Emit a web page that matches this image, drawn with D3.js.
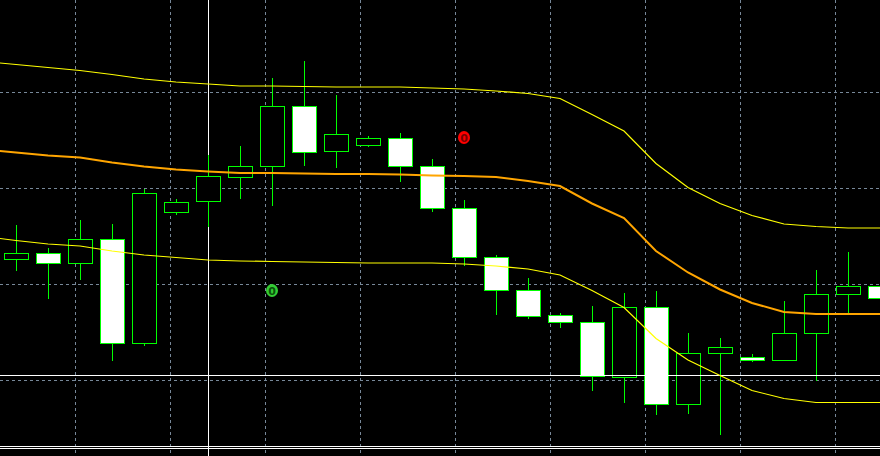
<!DOCTYPE html>
<html>
<head>
<meta charset="utf-8">
<script src="https://cdnjs.cloudflare.com/ajax/libs/d3/7.8.5/d3.min.js"></script>
<style>
	body { margin: 0; background: #000; overflow: hidden; }
	svg { display: block; }
</style>
</head>
<body>
<div id="chart"></div>
<script>
// candles, bar 0 = leftmost visible bar
var bars   = [0, 1, 2, 3, 4, 5, 6, 7, 8, 9, 10, 11, 12, 13, 14, 15, 16, 17, 18, 19, 20, 21, 22, 23, 24, 25, 26, 27];
var opens  = [1.30241, 1.30253, 1.30233, 1.30281, 1.30073, 1.30335, 1.30357, 1.30405, 1.30427, 1.30547, 1.30457, 1.30469, 1.30483, 1.30427,
              1.30343, 1.30245, 1.30179, 1.30129, 1.30115, 1.30005, 1.30145, 1.29951, 1.30053, 1.30045, 1.30039, 1.30093, 1.30171, 1.30187];
var highs  = [1.30310, 1.30263, 1.30320, 1.30312, 1.30382, 1.30362, 1.30449, 1.30468, 1.30604, 1.30638, 1.30570, 1.30488, 1.30494, 1.30441,
              1.30360, 1.30250, 1.30204, 1.30134, 1.30148, 1.30173, 1.30177, 1.30093, 1.30083, 1.30052, 1.30158, 1.30220, 1.30255, 1.30195];
var lows   = [1.30219, 1.30163, 1.30201, 1.30039, 1.30069, 1.30331, 1.30307, 1.30363, 1.30349, 1.30429, 1.30425, 1.30467, 1.30397, 1.30337,
              1.30229, 1.30131, 1.30123, 1.30105, 1.29979, 1.29955, 1.29931, 1.29933, 1.29891, 1.30037, 1.30039, 1.30000, 1.30133, 1.30155];
var closes = [1.30253, 1.30233, 1.30281, 1.30073, 1.30373, 1.30355, 1.30408, 1.30427, 1.30547, 1.30455, 1.30491, 1.30483, 1.30427, 1.30343,
              1.30245, 1.30179, 1.30127, 1.30115, 1.30007, 1.30145, 1.29951, 1.30053, 1.30065, 1.30039, 1.30093, 1.30171, 1.30187, 1.30163];

// bollinger bands (start one bar before the first visible candle)
var bandBars = [-1, 0, 1, 2, 3, 4, 5, 6, 7, 8, 9, 10, 11, 12, 13, 14, 15, 16, 17, 18, 19, 20, 21, 22, 23, 24, 25, 26, 27];
var upper  = [1.30638, 1.30632, 1.30626, 1.30620, 1.30612, 1.30603, 1.30597, 1.30593, 1.30589, 1.30589, 1.30588, 1.30587, 1.30587, 1.30587, 1.30585,
              1.30583, 1.30579, 1.30574, 1.30564, 1.30532, 1.30499, 1.30434, 1.30386, 1.30354, 1.30330, 1.30313, 1.30308, 1.30305, 1.30305];
var middle = [1.30462, 1.30456, 1.30450, 1.30446, 1.30436, 1.30428, 1.30422, 1.30418, 1.30415, 1.30415, 1.30414, 1.30413, 1.30413, 1.30412, 1.30410,
              1.30409, 1.30407, 1.30399, 1.30389, 1.30354, 1.30325, 1.30259, 1.30216, 1.30182, 1.30155, 1.30137, 1.30133, 1.30133, 1.30133];
var lower  = [1.30288, 1.30280, 1.30273, 1.30269, 1.30259, 1.30251, 1.30246, 1.30241, 1.30239, 1.30238, 1.30237, 1.30236, 1.30235, 1.30235, 1.30235,
              1.30233, 1.30229, 1.30223, 1.30211, 1.30180, 1.30146, 1.30084, 1.30041, 1.30010, 1.29980, 1.29964, 1.29956, 1.29956, 1.29956];

// grid, objects and signal marks
var gridPrices = [1.30576, 1.30384, 1.30192, 1.30000];
var gridBars   = [1.84, 4.81, 7.78, 10.75, 13.72, 16.69, 19.66, 22.63, 25.59];
var hLinePrices = [1.30010, 1.29868, 1.29864];
var vLineBars   = [6];
var signals = [
	{ bar: 14, price: 1.30485, label: "0", fill: "#ff0000", ink: "#7a0000" },
	{ bar: 8,  price: 1.30179, label: "0", fill: "#33cc33", ink: "#0a520a" }
];

var W = 880, H = 456;

var x = d3.scaleLinear()
	.domain([-0.5, 27])
	.range([0, W]);
var y = d3.scaleLinear()
	.domain([1.29848, 1.30760])
	.range([H, 0]);

// snap to pixel centre so 1px strokes stay sharp
function px(v) { return Math.floor(v + 0.2) + 0.5; }

var svg = d3.select("#chart")
	.append("svg")
	.attr("width", W)
	.attr("height", H);

svg.append("rect")
	.attr("width", W)
	.attr("height", H)
	.attr("fill", "#000");

var grid = svg.append("g")
	.attr("stroke", "#778899")
	.attr("stroke-width", 1)
	.attr("stroke-dasharray", "3,3")
	.attr("shape-rendering", "crispEdges");

grid.selectAll("line.h")
	.data(gridPrices)
	.enter()
	.append("line")
	.attr("class", "h")
	.attr("x1", 0)
	.attr("x2", W)
	.attr("y1", function(d) { return px(y(d)); })
	.attr("y2", function(d) { return px(y(d)); });

grid.selectAll("line.v")
	.data(gridBars)
	.enter()
	.append("line")
	.attr("class", "v")
	.attr("y1", 0)
	.attr("y2", H)
	.attr("x1", function(d) { return px(x(d)); })
	.attr("x2", function(d) { return px(x(d)); });

// vertical line object sits behind the candles
svg.selectAll("line.vline")
	.data(vLineBars)
	.enter()
	.append("line")
	.attr("class", "vline")
	.attr("x1", function(d) { return px(x(d)); })
	.attr("x2", function(d) { return px(x(d)); })
	.attr("y1", 0)
	.attr("y2", H)
	.attr("stroke", "#fff")
	.attr("shape-rendering", "crispEdges");

var candles = bars.map(function(b, i) {
	return { bar: b, o: opens[i], h: highs[i], l: lows[i], c: closes[i] };
});

var cg = svg.append("g")
	.attr("shape-rendering", "crispEdges");

var candle = cg.selectAll("g.candle")
	.data(candles)
	.enter()
	.append("g")
	.attr("class", "candle");

candle.append("line")
	.attr("x1", function(d) { return px(x(d.bar)); })
	.attr("x2", function(d) { return px(x(d.bar)); })
	.attr("y1", function(d) { return px(y(d.h)) - 0.5; })
	.attr("y2", function(d) { return px(y(d.l)) + 0.5; })
	.attr("stroke", "#00ff00");

candle.append("rect")
	.attr("x", function(d) { return px(x(d.bar)) - 12; })
	.attr("width", 24)
	.attr("y", function(d) { return px(y(Math.max(d.o, d.c))); })
	.attr("height", function(d) { return Math.max(1, px(y(Math.min(d.o, d.c))) - px(y(Math.max(d.o, d.c)))); })
	.attr("fill", function(d) { return d.c < d.o ? "#fff" : "#000"; })
	.attr("stroke", "#00ff00");

// horizontal line objects
svg.selectAll("line.hline")
	.data(hLinePrices)
	.enter()
	.append("line")
	.attr("class", "hline")
	.attr("x1", 0)
	.attr("x2", W)
	.attr("y1", function(d) { return px(y(d)); })
	.attr("y2", function(d) { return px(y(d)); })
	.attr("stroke", "#fff")
	.attr("shape-rendering", "crispEdges");

// bands
function bandData(vals) {
	return bandBars.map(function(b, i) { return { bar: b, v: vals[i] }; });
}
var line = d3.line()
	.x(function(d) { return x(d.bar); })
	.y(function(d) { return y(d.v) + 0.5; });

var bands = svg.append("g")
	.attr("fill", "none");

bands.append("path")
	.datum(bandData(upper))
	.attr("d", line)
	.attr("stroke", "#ffff00")
	.attr("stroke-width", 1.2);
bands.append("path")
	.datum(bandData(lower))
	.attr("d", line)
	.attr("stroke", "#ffff00")
	.attr("stroke-width", 1.2);
bands.append("path")
	.datum(bandData(middle))
	.attr("d", line)
	.attr("stroke", "#ffa500")
	.attr("stroke-width", 2);

// signal marks
var sig = svg.selectAll("g.sig")
	.data(signals)
	.enter()
	.append("g")
	.attr("class", "sig")
	.attr("transform", function(d) { return "translate(" + x(d.bar) + "," + y(d.price) + ")"; });

sig.append("ellipse")
	.attr("rx", 6)
	.attr("ry", 6.5)
	.attr("fill", function(d) { return d.fill; });

sig.append("text")
	.attr("text-anchor", "middle")
	.attr("dy", "0.37em")
	.style("font-family", "DejaVu Sans, sans-serif")
	.style("font-weight", "bold")
	.style("font-size", "11px")
	.attr("fill", function(d) { return d.ink; })
	.text(function(d) { return d.label; });
</script>
</body>
</html>
